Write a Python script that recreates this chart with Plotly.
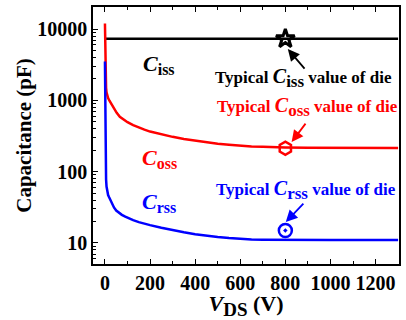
import plotly.graph_objects as go

# ---- data ----
vds_ciss = [0, 200, 400, 600, 800, 1000, 1200, 1300]
ciss = [7300, 7300, 7300, 7300, 7300, 7300, 7300, 7300]

vds_coss = [0, 1, 2, 3, 4, 5, 7, 10, 14, 20, 30, 40, 52, 66, 80, 100, 125, 150, 175, 200, 250,
            300, 350, 400, 450, 500, 550, 600, 650, 700, 750, 800, 900, 1000, 1100, 1200, 1300]
coss = [12000, 6000, 3200, 2200, 1750, 1500, 1300, 1170, 1080, 990, 870, 770, 670, 590, 545,
        495, 450, 415, 388, 365, 332, 308, 288, 272, 258, 246, 238, 231, 226, 223, 220, 219,
        217, 216, 215, 215, 215]

vds_crss = [0, 1, 2, 3, 4, 5, 7, 10, 14, 18, 22, 30, 40, 50, 62, 75, 90, 100, 125, 150, 175,
            200, 250, 300, 350, 400, 450, 500, 550, 600, 650, 700, 800, 900, 1000, 1100, 1200, 1300]
crss = [3500, 1000, 350, 160, 100, 78, 62, 53, 47, 44, 41.5, 36, 31.5, 28.5, 26.5, 24.8, 23.4,
        22.6, 20.9, 19.6, 18.6, 17.8, 16.3, 15.1, 14.1, 13.3, 12.6, 12.1, 11.7, 11.4, 11.2,
        11.1, 11.0, 11.0, 11.0, 11.0, 11.0, 11.0]

typ_v = [800]
typ_ciss = [7300]
typ_coss = [213]
typ_crss = [15]

x_ticks = [0, 200, 400, 600, 800, 1000, 1200]
x_minor = [100, 300, 500, 700, 900, 1100, 1300]
y_ticks = [10, 100, 1000, 10000]
y_minor = [m * d for d in [1, 10, 100, 1000, 10000] for m in range(2, 10)]

FONT = "Liberation Serif, Times New Roman, serif"

fig = go.Figure()
fig.add_trace(go.Scatter(x=vds_ciss, y=ciss, mode="lines", line=dict(color="black", width=2.5)))
fig.add_trace(go.Scatter(x=vds_coss, y=coss, mode="lines", line=dict(color="red", width=2.5)))
fig.add_trace(go.Scatter(x=vds_crss, y=crss, mode="lines", line=dict(color="blue", width=2.5)))
fig.add_trace(go.Scatter(x=typ_v, y=typ_ciss, mode="markers",
                         marker=dict(symbol="star-open", size=14, color="black", line=dict(width=3, color="black"))))
fig.add_trace(go.Scatter(x=typ_v, y=typ_coss, mode="markers",
                         marker=dict(symbol="hexagon-open", size=13, color="red", line=dict(width=2.5, color="red"))))
fig.add_trace(go.Scatter(x=typ_v, y=typ_crss, mode="markers",
                         marker=dict(symbol="circle-open-dot", size=13, color="blue", line=dict(width=2.5, color="blue"))))

def lab(x, y, txt, color, size=17):
    fig.add_annotation(x=x, y=y, xref="x", yref="y", text=txt, showarrow=False,
                       font=dict(family=FONT, size=size, color=color, weight="bold"))

def cap(name, cs=22, ss=16):
    return ("<i><span style='font-size:%dpx'>C</span></i><sub><span style='font-size:%dpx'>%s</span></sub>"
            % (cs, ss, name))

lab(240, 3.51, cap("iss"), "black")
lab(240, 2.19, cap("oss"), "red")
lab(240, 1.574, cap("rss"), "blue")
lab(880, 3.313, "Typical " + cap("iss", 20, 17) + " value of die", "black")
lab(897, 2.906, "Typical " + cap("oss", 20, 17) + " value of die", "red")
lab(890, 1.742, "Typical " + cap("rss", 20, 17) + " value of die", "blue")

def arrow(x, y, ax, ay, color):
    fig.add_annotation(x=x, y=y, xref="x", yref="y", text="", showarrow=True,
                       ax=ax, ay=ay, arrowcolor=color, arrowwidth=1.8, arrowhead=2, arrowsize=1.3)

arrow(811, 3.72, 18, 21, "black")
arrow(828, 2.415, 15, -20, "red")
arrow(802, 1.293, 19, -20, "blue")

fig.update_layout(
    width=406, height=320,
    margin=dict(l=93, r=5, t=7, b=56),
    paper_bgcolor="white", plot_bgcolor="white",
    showlegend=False,
    font=dict(family=FONT, color="black"),
)
fig.update_xaxes(
    range=[-53, 1304], tickvals=x_ticks, ticktext=[str(v) for v in x_ticks],
    showgrid=False, zeroline=False, showline=True, linecolor="black", linewidth=1.5,
    mirror="ticks", ticks="inside", ticklen=5, tickwidth=1.2, tickcolor="black",
    minor=dict(ticks="inside", ticklen=3, tickvals=x_minor, tickcolor="black", tickwidth=1),
    tickfont=dict(family=FONT, size=20, weight="bold"),
    title=dict(text="<i>V</i><sub><span style='font-size:19px'>DS</span></sub> (V)", standoff=5,
               font=dict(family=FONT, size=22, weight="bold")),
)
fig.update_yaxes(
    type="log", range=[0.705, 4.31], tickvals=y_ticks, ticktext=[str(v) for v in y_ticks],
    showgrid=False, zeroline=False, showline=True, linecolor="black", linewidth=1.5,
    mirror=True, ticks="inside", ticklen=5, tickwidth=1.2, tickcolor="black",
    minor=dict(ticks="inside", ticklen=3, tickvals=y_minor, tickcolor="black", tickwidth=1),
    tickfont=dict(family=FONT, size=20, weight="bold"),
    title=dict(text="Capacitance (pF)", standoff=0,
               font=dict(family=FONT, size=21, weight="bold")),
)

fig.write_html("out.html", config={"displayModeBar": False},
               post_script="document.body.style.margin='0';")
